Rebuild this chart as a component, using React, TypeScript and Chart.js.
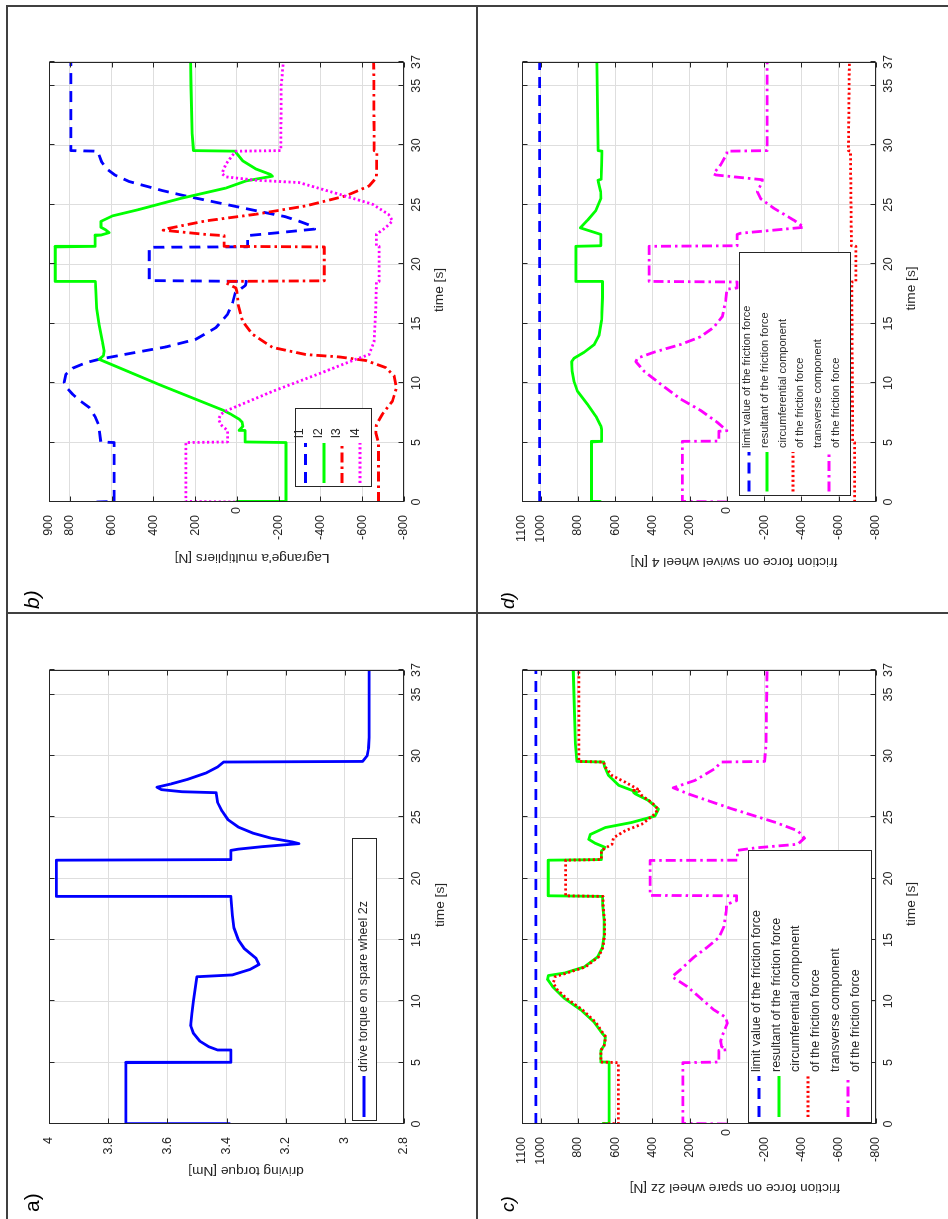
import React, { useEffect, useRef } from "react";
import { Chart, registerables } from "chart.js";

Chart.register(...registerables);

const FONT = "'Liberation Sans', Arial, Helvetica, sans-serif";
const INK = "#262626";
const GRID = "#dedede";
const BLUE = "#0000ff";
const GREEN = "#00ff00";
const RED = "#ff0000";
const MAGENTA = "#ff00ff";

const DASHED = [11, 7];
const DASHDOT = [10, 4, 2.5, 4];
const DOTTED = [2.2, 2.6];
const LINE_W = 2.8;

// ---------- tick labels ----------
const timeTicks = [0, 5, 10, 15, 20, 25, 30, 35, 37];
const torqueTicks = [2.8, 3, 3.2, 3.4, 3.6, 3.8, 4];
const lagrangeTicks = [-800, -600, -400, -200, 0, 200, 400, 600, 800, 900];
const frictionTicks = [-800, -600, -400, -200, 0, 200, 400, 600, 800, 1000, 1100];

// ---------- a) drive torque [time s, torque Nm] ----------
const torque: [number, number][] = [
  [0, 3.39], [0.03, 3.74], [5, 3.74], [5.03, 3.385], [6, 3.385], [6.03, 3.43], [6.3, 3.46], [6.75, 3.49],
  [7.4, 3.512], [8, 3.521], [9, 3.517], [10, 3.512], [11, 3.506], [12, 3.5], [12.15, 3.38], [12.6, 3.32],
  [13, 3.29], [13.5, 3.3], [14.3, 3.34], [15, 3.36], [16, 3.375], [17, 3.38], [18.5, 3.385], [18.55, 3.975],
  [21.5, 3.975], [21.55, 3.385], [22.3, 3.385], [22.4, 3.36], [22.6, 3.28], [22.85, 3.155], [23.0, 3.18],
  [23.3, 3.25], [23.7, 3.31], [24.2, 3.36], [24.8, 3.395], [25.5, 3.415], [26.2, 3.43], [27.0, 3.435],
  [27.08, 3.55], [27.25, 3.62], [27.45, 3.635], [27.7, 3.59], [28.1, 3.53], [28.6, 3.47], [29.1, 3.43],
  [29.5, 3.41], [29.55, 2.94], [30, 2.925], [30.6, 2.92], [31.5, 2.918], [37, 2.918],
];

// ---------- b) Lagrange multipliers [time s, N] ----------
const l1: [number, number][] = [
  [0, 672], [0.05, 588], [5, 588], [5.05, 652], [6.5, 663], [7.2, 680], [7.94, 707], [8.5, 750], [9.06, 787],
  [9.6, 815], [10.04, 827], [10.74, 819], [11.25, 787], [11.72, 723], [12.0, 660], [12.48, 516], [13.04, 340],
  [13.68, 197], [14.66, 101], [15.78, 45], [16.8, 20], [17.6, 8], [18.2, -40], [18.55, -45], [18.62, 420],
  [21.42, 420], [21.46, -51], [22.4, -51], [22.65, -200], [22.95, -372], [23.3, -345], [23.6, -300],
  [24.0, -230], [24.5, -90], [25.2, 100], [25.75, 250], [26.2, 360], [26.95, 516], [27.5, 585], [28.0, 622],
  [28.6, 648], [29.25, 662], [29.5, 668], [29.55, 795], [37, 795],
];
const l2: [number, number][] = [
  [0, 0], [0.05, -235], [5, -235], [5.05, -39], [6.0, -39], [6.02, -10], [6.35, -28], [6.7, -25], [6.96, -11],
  [7.38, 29], [7.74, 69], [9.82, 365], [12.0, 660], [12.3, 640], [12.7, 636], [13.5, 644], [14.9, 660],
  [16.3, 672], [17.7, 676], [18.5, 678], [18.55, 870], [21.45, 870], [21.5, 679], [22.4, 679], [22.45, 650],
  [22.65, 612], [22.9, 630], [23.1, 651], [23.6, 651], [24.06, 596], [24.6, 468], [25.5, 276], [26.4, 53],
  [27.0, -43], [27.4, -170], [27.55, -160], [28.0, -91], [28.7, -27], [29.4, 5], [29.5, 5], [29.55, 208],
  [31, 215], [35, 220], [37, 222],
];
const l3: [number, number][] = [
  [0, -678], [5, -678], [5.8, -665], [6.5, -668], [7.4, -697], [8.5, -745], [9.6, -764], [10.6, -753],
  [11.3, -713], [11.9, -617], [12.2, -490], [12.4, -330], [13.0, -170], [14.1, -75], [15.2, -27], [16.6, -6],
  [17.7, 0], [18.0, 5], [18.4, 50], [18.55, 55], [18.6, -418], [21.45, -418], [21.5, 61], [22.4, 61],
  [22.5, 150], [22.86, 353], [23.0, 330], [23.64, 149], [24.2, -91], [24.9, -330], [25.74, -521],
  [26.58, -633], [27.28, -668], [29.5, -670], [29.55, -657], [37, -655],
];
const l4: [number, number][] = [
  [0, 8], [0.05, 245], [5, 245], [5.05, 45], [6.0, 45], [6.5, 77], [6.96, 88], [7.38, 77], [7.66, 53],
  [9.3, -170], [10.9, -410], [12.0, -569], [12.4, -633], [13.5, -657], [16.4, -665], [18.5, -668],
  [18.55, -681], [21.5, -681], [21.55, -668], [22.52, -668], [23.08, -713], [23.64, -745], [24.2, -725],
  [25.04, -649], [25.88, -490], [26.86, -298], [27.06, -91], [27.34, 53], [27.62, 72], [28.4, 53],
  [29.0, 28], [29.5, 5], [29.55, -210], [35, -212], [37, -222],
];

// ---------- c) friction force on spare wheel 2z [time s, N] ----------
const limitC: [number, number][] = [[0, 1025], [37, 1025]];
const resultantC: [number, number][] = [
  [0, 665], [0.05, 632], [5, 632], [5.05, 677], [6.0, 677], [6.4, 659], [7.1, 653], [7.4, 670], [8.3, 713],
  [9.3, 784], [10.25, 873], [11.2, 936], [11.8, 963], [12.1, 958], [12.3, 873], [12.8, 766], [13.6, 695],
  [14.4, 668], [15.35, 659], [16.6, 659], [17.9, 667], [18.55, 667], [18.6, 959], [21.5, 959], [21.55, 674],
  [22.25, 674], [22.4, 662], [22.55, 655], [22.9, 710], [23.2, 742], [23.6, 733], [24.16, 653], [24.58, 510],
  [25.1, 386], [25.67, 368], [26.36, 421], [26.9, 492], [27.0, 500], [27.05, 485], [27.6, 581], [28.4, 635],
  [29.1, 656], [29.5, 662], [29.55, 805], [31, 813], [37, 825],
];
const circumferentialC: [number, number][] = [
  [0, 665], [0.05, 583], [5, 583], [5.05, 677], [6.0, 677], [6.4, 659], [7.1, 650], [7.4, 665], [8.3, 705],
  [9.3, 775], [10.25, 862], [11.0, 915], [11.5, 932], [12.0, 922], [12.25, 870], [12.8, 760], [13.6, 690],
  [14.4, 665], [15.35, 657], [16.6, 657], [17.9, 665], [18.55, 665], [18.6, 866], [21.5, 866], [21.55, 674],
  [22.25, 674], [22.4, 662], [22.8, 617], [23.34, 608], [23.9, 546], [24.44, 457], [25.26, 386],
  [25.67, 371], [26.2, 403], [26.77, 457], [27.1, 470], [27.2, 500], [27.3, 480], [27.86, 546], [28.4, 617],
  [29.1, 653], [29.5, 662], [29.55, 795], [37, 795],
];
const transverseC: [number, number][] = [
  [0, 0], [0.05, 237], [5, 237], [5.05, 43], [6.0, 43], [6.05, 3], [6.3, 28], [6.75, 34], [7.2, 25],
  [8.2, -2], [8.7, 7], [9.3, 70], [10.25, 141], [11.2, 213], [12.0, 295], [12.6, 248], [13.6, 177],
  [14.4, 106], [15.2, 43], [16.1, 16], [17.3, 4], [17.9, 2], [18.2, -52], [18.6, -52], [18.63, 412],
  [21.48, 412], [21.5, -56], [22.3, -56], [22.5, -150], [22.8, -380], [23.3, -416], [23.9, -380],
  [24.6, -256], [25.7, -24], [26.9, 207], [27.4, 288], [28.0, 172], [28.96, 65], [29.5, 29], [29.55, -202],
  [31, -210], [37, -215],
];

// ---------- d) friction force on swivel wheel 4 [time s, N] ----------
const limitD: [number, number][] = [[0, 1005], [37, 1005]];
const resultantD: [number, number][] = [
  [0, 680], [0.05, 727], [5.05, 727], [5.1, 673], [6.1, 673], [6.4, 677], [7.2, 703], [8.2, 748], [9.3, 802],
  [10.2, 822], [11.0, 831], [11.8, 834], [12.1, 820], [12.6, 766], [13.25, 712], [14.05, 686], [15.3, 673],
  [17.2, 668], [18.5, 668], [18.55, 811], [21.5, 811], [21.55, 677], [22.5, 677], [23.05, 787], [23.7, 748],
  [24.5, 704], [25.5, 677], [26.1, 678], [26.9, 690], [27.05, 692], [27.15, 675], [28.35, 673], [29.3, 671],
  [29.5, 671], [29.55, 691], [37, 698],
];
const circumferentialD: [number, number][] = [
  [0, -685], [5, -685], [5.05, -675], [18.5, -670], [18.55, -692], [21.5, -692], [21.55, -668], [29.5, -663],
  [29.55, -652], [37, -657],
];
const transverseD: [number, number][] = [
  [0, 0], [0.05, 239], [5.1, 239], [5.12, 43], [5.95, 43], [6.0, 0], [6.7, 52], [7.7, 141], [8.65, 248],
  [9.9, 355], [11.0, 445], [11.8, 489], [12.1, 480], [12.6, 391], [13.25, 248], [13.9, 141], [14.7, 70],
  [15.6, 25], [16.9, 7], [17.9, 0], [18.0, -55], [18.5, -55], [18.55, 418], [21.5, 418], [21.55, -55],
  [22.5, -55], [22.6, -73], [23.1, -413], [23.7, -359], [24.7, -252], [25.5, -181], [26.1, -163],
  [26.9, -189], [27.1, -190], [27.5, 60], [27.6, 73], [28.35, 34], [29.3, 0], [29.5, 0], [29.55, -216],
  [37, -216],
];

const frictionLabels = [
  "limit value of the friction force",
  "resultant of the friction force",
  "circumferential component\nof the friction force",
  "transverse component\nof the friction force",
];

type Entry = { ds: number; textY: number[]; sampleY: number };
type LegendSpec = { x: number; y: number; w: number; h: number; s0: number; s1: number; tx: number; size: number; entries: Entry[] };
type Series = { data: [number, number][]; color: string; dash: number[]; label: string };
type PanelSpec = {
  x: number; y: number; w: number; h: number;
  area: { l: number; r: number; t: number; b: number };
  yMin: number; yMax: number; yTicks: number[];
  series: Series[];
  ylabel: string; ylabelPos: [number, number]; xlabelPos: [number, number];
  tag: string; tagPos: [number, number]; tagItalic: boolean; tagSize: number;
  legend: LegendSpec;
};

const panels: PanelSpec[] = [
  {
    x: 0, y: 0, w: 606, h: 477, area: { l: 95, r: 549, t: 49, b: 404 },
    yMin: 2.8, yMax: 4, yTicks: torqueTicks,
    series: [{ data: torque, color: BLUE, dash: [], label: "drive torque on spare wheel 2z" }],
    ylabel: "driving torque [Nm]", ylabelPos: [48, 246], xlabelPos: [314, 440],
    tag: "a)", tagPos: [7, 38.5], tagItalic: false, tagSize: 21,
    legend: { x: 98, y: 352, w: 282, h: 24, s0: 102, s1: 143, tx: 147, size: 12.5, entries: [{ ds: 0, textY: [363.5], sampleY: 364 }] },
  },
  {
    x: 606, y: 0, w: 608, h: 477, area: { l: 111, r: 551, t: 49, b: 404 },
    yMin: -800, yMax: 900, yTicks: lagrangeTicks,
    series: [
      { data: l1, color: BLUE, dash: DASHED, label: "l1" },
      { data: l2, color: GREEN, dash: [], label: "l2" },
      { data: l3, color: RED, dash: DASHDOT, label: "l3" },
      { data: l4, color: MAGENTA, dash: DOTTED, label: "l4" },
    ],
    ylabel: "Lagrange'a multipliers [N]", ylabelPos: [55.5, 252], xlabelPos: [323, 439],
    tag: "b)", tagPos: [4, 38.5], tagItalic: true, tagSize: 21,
    legend: {
      x: 126, y: 295, w: 78, h: 76, s0: 130, s1: 170, tx: 175, size: 12.5,
      entries: [
        { ds: 0, textY: [300], sampleY: 305.5 },
        { ds: 1, textY: [318.5], sampleY: 324 },
        { ds: 2, textY: [337], sampleY: 342 },
        { ds: 3, textY: [355.5], sampleY: 360 },
      ],
    },
  },
  {
    x: 0, y: 477, w: 606, h: 471, area: { l: 95, r: 549, t: 45, b: 399 },
    yMin: -800, yMax: 1100, yTicks: frictionTicks,
    series: [
      { data: limitC, color: BLUE, dash: DASHED, label: frictionLabels[0] },
      { data: resultantC, color: GREEN, dash: [], label: frictionLabels[1] },
      { data: circumferentialC, color: RED, dash: DOTTED, label: frictionLabels[2] },
      { data: transverseC, color: MAGENTA, dash: DASHDOT, label: frictionLabels[3] },
    ],
    ylabel: "friction force on spare wheel 2z [N]", ylabelPos: [31.5, 258], xlabelPos: [315, 434],
    tag: "c)", tagPos: [7, 37], tagItalic: true, tagSize: 19,
    legend: {
      x: 96, y: 271, w: 272, h: 123, s0: 102, s1: 143, tx: 147, size: 12.5,
      entries: [
        { ds: 0, textY: [280], sampleY: 282 },
        { ds: 1, textY: [299.5], sampleY: 302 },
        { ds: 2, textY: [319, 339], sampleY: 331 },
        { ds: 3, textY: [359, 379], sampleY: 371 },
      ],
    },
  },
  {
    x: 606, y: 477, w: 608, h: 471, area: { l: 111, r: 551, t: 45, b: 399 },
    yMin: -800, yMax: 1100, yTicks: frictionTicks,
    series: [
      { data: limitD, color: BLUE, dash: DASHED, label: frictionLabels[0] },
      { data: resultantD, color: GREEN, dash: [], label: frictionLabels[1] },
      { data: circumferentialD, color: RED, dash: DOTTED, label: frictionLabels[2] },
      { data: transverseD, color: MAGENTA, dash: DASHDOT, label: frictionLabels[3] },
    ],
    ylabel: "friction force on swivel wheel 4 [N]", ylabelPos: [51.5, 257], xlabelPos: [324.5, 434.5],
    tag: "d)", tagPos: [4, 37], tagItalic: true, tagSize: 19,
    legend: {
      x: 117, y: 262, w: 243, h: 111, s0: 121.5, s1: 161, tx: 165, size: 11,
      entries: [
        { ds: 0, textY: [270], sampleY: 272 },
        { ds: 1, textY: [287.5], sampleY: 290 },
        { ds: 2, textY: [305.5, 323], sampleY: 316 },
        { ds: 3, textY: [340.5, 358.5], sampleY: 352 },
      ],
    },
  },
];

function makeDecor(p: PanelSpec) {
  return {
    id: "decor",
    afterDraw(chart: any) {
      const ctx: CanvasRenderingContext2D = chart.ctx;
      const a = chart.chartArea;
      const xs = chart.scales.x;
      const ys = chart.scales.y;
      ctx.save();
      const L = Math.round(a.left) + 0.5;
      const R = Math.round(a.right) - 0.5;
      const T = Math.round(a.top) + 0.5;
      const B = Math.round(a.bottom) - 0.5;
      ctx.strokeStyle = INK;
      ctx.lineWidth = 1;
      ctx.setLineDash([]);
      ctx.strokeRect(L, T, R - L, B - T);
      ctx.beginPath();
      for (const t of timeTicks) {
        const x = Math.round(xs.getPixelForValue(t)) + 0.5;
        ctx.moveTo(x, B); ctx.lineTo(x, B - 5);
        ctx.moveTo(x, T); ctx.lineTo(x, T + 5);
      }
      for (const v of p.yTicks) {
        const y = Math.round(ys.getPixelForValue(v)) + 0.5;
        ctx.moveTo(L, y); ctx.lineTo(L + 5, y);
        ctx.moveTo(R, y); ctx.lineTo(R - 5, y);
      }
      ctx.stroke();

      // value tick labels
      ctx.fillStyle = INK;
      ctx.font = `12.5px ${FONT}`;
      ctx.textAlign = "right";
      ctx.textBaseline = "middle";
      for (const v of p.yTicks) {
        ctx.fillText(String(v), a.left - (v === 0 ? 5 : 13), ys.getPixelForValue(v));
      }

      // axis titles
      ctx.font = `13.7px ${FONT}`;
      ctx.textAlign = "center";
      ctx.textBaseline = "middle";
      ctx.save();
      ctx.translate(p.ylabelPos[0], p.ylabelPos[1]);
      ctx.rotate(-Math.PI / 2);
      ctx.fillText(p.ylabel, 0, 0);
      ctx.restore();
      ctx.fillText("time [s]", p.xlabelPos[0], p.xlabelPos[1]);

      // panel tag
      ctx.font = `${p.tagItalic ? "italic " : ""}${p.tagSize}px ${FONT}`;
      ctx.textAlign = "left";
      ctx.textBaseline = "alphabetic";
      ctx.fillStyle = "#000";
      ctx.fillText(p.tag, p.tagPos[0], p.tagPos[1]);

      // legend
      const lg = p.legend;
      ctx.fillStyle = "#ffffff";
      ctx.fillRect(lg.x, lg.y, lg.w, lg.h);
      ctx.strokeStyle = INK;
      ctx.lineWidth = 1;
      ctx.strokeRect(Math.round(lg.x) + 0.5, Math.round(lg.y) + 0.5, Math.round(lg.w), Math.round(lg.h));
      for (const e of lg.entries) {
        const ds = chart.data.datasets[e.ds];
        ctx.save();
        ctx.strokeStyle = ds.borderColor;
        ctx.lineWidth = ds.borderWidth;
        ctx.setLineDash(ds.borderDash || []);
        ctx.beginPath();
        ctx.moveTo(lg.s0, e.sampleY);
        ctx.lineTo(lg.s1, e.sampleY);
        ctx.stroke();
        ctx.restore();
        ctx.fillStyle = INK;
        ctx.font = `${lg.size}px ${FONT}`;
        ctx.textAlign = "left";
        ctx.textBaseline = "middle";
        const lines = String(ds.label).split("\n");
        lines.forEach((s, i) => ctx.fillText(s, lg.tx, e.textY[i]));
      }
      ctx.restore();
    },
  };
}

function buildConfig(p: PanelSpec): any {
  const n = p.series.length;
  const datasets = p.series.map((s, i) => ({
    label: s.label,
    data: s.data.map(([x, y]) => ({ x, y })),
    borderColor: s.color,
    backgroundColor: s.color,
    borderWidth: LINE_W,
    borderDash: s.dash,
    borderCapStyle: "butt",
    borderJoinStyle: "round",
    pointRadius: 0,
    fill: false,
    tension: 0,
    order: n - i,
  }));
  return {
    type: "line",
    data: { datasets },
    options: {
      responsive: false,
      animation: false,
      devicePixelRatio: 1,
      events: [],
      layout: { padding: { left: p.area.l - 50, right: p.w - p.area.r, top: p.area.t, bottom: p.h - p.area.b - 30 } },
      plugins: { legend: { display: false }, tooltip: { enabled: false }, title: { display: false } },
      scales: {
        x: {
          type: "linear", min: 0, max: 37,
          afterBuildTicks: (s: any) => { s.ticks = timeTicks.map((v) => ({ value: v })); },
          afterFit: (s: any) => { s.height = 30; },
          grid: { color: GRID, drawTicks: false, lineWidth: 1 },
          border: { display: false },
          ticks: { autoSkip: false, maxRotation: 0, padding: 5, color: INK, font: { family: FONT, size: 12.5 }, callback: (v: any) => String(v) },
        },
        y: {
          type: "linear", min: p.yMin, max: p.yMax,
          afterBuildTicks: (s: any) => { s.ticks = p.yTicks.map((v) => ({ value: v })); },
          afterFit: (s: any) => { s.width = 50; },
          grid: { color: GRID, drawTicks: false, lineWidth: 1 },
          border: { display: false },
          ticks: { display: false },
        },
      },
    },
    plugins: [makeDecor(p)],
  };
}

function Panel({ spec }: { spec: PanelSpec }) {
  const ref = useRef<HTMLCanvasElement>(null);
  useEffect(() => {
    const chart = new Chart(ref.current as HTMLCanvasElement, buildConfig(spec));
    return () => chart.destroy();
  }, [spec]);
  return (
    <canvas
      ref={ref}
      width={spec.w}
      height={spec.h}
      style={{ position: "absolute", left: spec.x, top: spec.y, width: spec.w, height: spec.h }}
    />
  );
}

const lineStyle = (left: number, top: number, width: number, height: number): React.CSSProperties => ({
  position: "absolute", left, top, width, height, background: "#404040", zIndex: 2,
});

export default function App() {
  return (
    <div
      style={{
        position: "fixed", left: 0, top: 0, width: 1219, height: 948, background: "#ffffff",
        transformOrigin: "0 0", transform: "translate(0px, 1219px) rotate(-90deg)", overflow: "hidden",
      }}
    >
      {panels.map((p, i) => <Panel key={i} spec={p} />)}
      <div style={lineStyle(0, 6, 1214, 2)} />
      <div style={lineStyle(1212, 6, 2, 942)} />
      <div style={lineStyle(0, 476, 1214, 2)} />
      <div style={lineStyle(605, 6, 2, 942)} />
    </div>
  );
}
